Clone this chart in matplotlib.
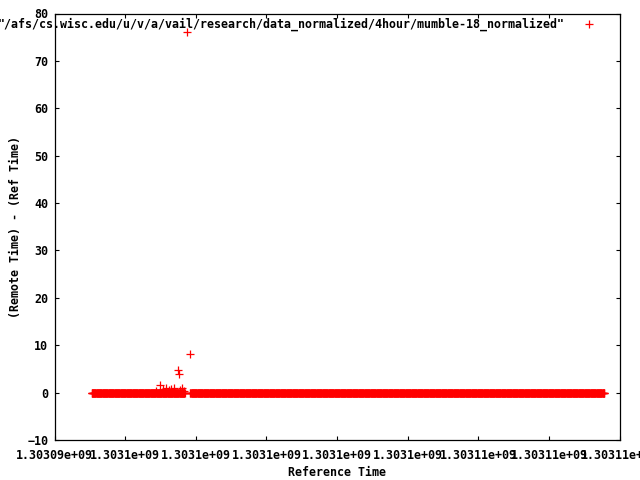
"""
Offset of remote clock vs reference clock (mumble-18, 4 hour run), gnuplot look.
"""
import matplotlib
matplotlib.use("Agg")
import matplotlib.pyplot as plt
from matplotlib.lines import Line2D
from matplotlib.ticker import FuncFormatter
import numpy as np

# --- data ----------------------------------------------------------------
# bulk of the samples sit on 0 offset, one every ~10 s over the run
base_start = 1303095050
base_stop = 1303109570
base_step = 10
base_offset = 0.0
# short stretch with no samples around the big spike
gap_lo, gap_hi = 1303097700, 1303097830

# the noisy stretch and the outliers
spike_time = [1303096880, 1303096988, 1303097080, 1303097170, 1303097230,
              1303097310, 1303097390, 1303097489, 1303097517, 1303097560,
              1303097620, 1303097660, 1303097761, 1303097846]
spike_offset = [0.4, 1.6, 0.7, 0.9, 0.6,
                0.8, 0.9, 4.8, 4.0, 0.6,
                0.9, 0.3, 76.0, 8.2]

legend_label = '"/afs/cs.wisc.edu/u/v/a/vail/research/data_normalized/4hour/mumble-18_normalized"'
x_ticks = [1303094000, 1303096000, 1303098000, 1303100000, 1303102000,
           1303104000, 1303106000, 1303108000, 1303110000]
y_ticks = [-10, 0, 10, 20, 30, 40, 50, 60, 70, 80]

# --- figure -----------------------------------------------------------------
plt.rcParams["font.family"] = "DejaVu Sans Mono"
plt.rcParams["font.weight"] = "bold"
FS = 8.4
RED = "#ff0000"

base_t = np.arange(base_start, base_stop + 1, base_step)
base_t = base_t[(base_t < gap_lo) | (base_t > gap_hi)]
t = np.concatenate([base_t, spike_time])
y = np.concatenate([np.full(base_t.size, base_offset), spike_offset])

fig = plt.figure(figsize=(6.4, 4.8), dpi=100)
W, H = 640, 480
ax = fig.add_axes([54.5 / W, 1 - 440 / H, 565 / W, 426.5 / H])

ax.plot(t, y, "+", color=RED, ms=5.2, mew=0.9, ls="none")

ax.set_xlim(x_ticks[0], x_ticks[-1])
ax.set_ylim(y_ticks[0], y_ticks[-1])
ax.set_xticks(x_ticks)
ax.set_yticks(y_ticks)
ax.xaxis.set_major_formatter(FuncFormatter(lambda v, p: "%g" % v))
ax.tick_params(direction="in", length=3.2, width=0.8, labelsize=FS,
               top=True, right=True, colors="black")
ax.tick_params(axis="x", pad=6.5)
ax.tick_params(axis="y", pad=4.5)
for s in ax.spines.values():
    s.set_linewidth(0.9)

ax.set_xlabel("Reference Time", fontsize=FS, fontweight="bold", labelpad=2.5)
ax.set_ylabel("(Remote Time) - (Ref Time)", fontsize=FS, fontweight="bold",
              labelpad=4)

# gnuplot style key, top right inside the plot
fig.text(565 / W, 1 - 24 / H, legend_label, fontsize=FS, fontweight="bold",
         ha="right", va="center")
fig.add_artist(Line2D([589 / W], [1 - 23.7 / H], marker="+", color=RED,
                      ms=5.2, mew=0.9, ls="none", transform=fig.transFigure))

fig.savefig("out.png", dpi=100)
